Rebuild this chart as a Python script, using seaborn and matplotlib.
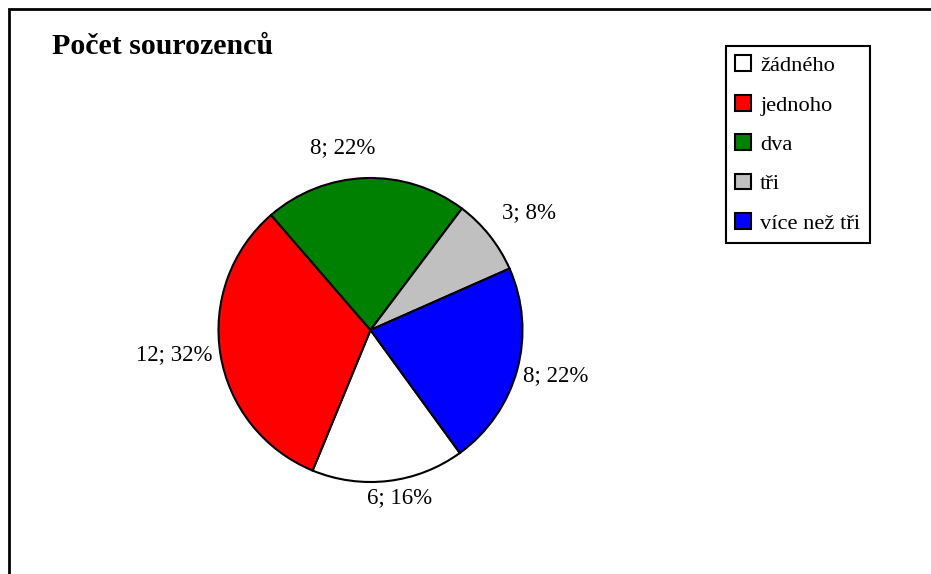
import matplotlib
matplotlib.use("Agg")
import matplotlib.pyplot as plt
import seaborn as sns
from matplotlib.patches import Rectangle

# data
categories = ['žádného', 'jednoho', 'dva', 'tři', 'více než tři']
counts = [6, 12, 8, 3, 8]
colors = ['#FFFFFF', '#FF0000', '#008000', '#C0C0C0', '#0000FF']

# label placement (pie units, radius = 1)
label_xy = [(0.19, -1.10), (-1.29, -0.16), (-0.18, 1.20), (1.04, 0.77), (1.22, -0.30)]

sns.set_theme(style="white")
plt.rcParams['font.family'] = ['Liberation Serif', 'DejaVu Serif']
plt.rcParams['text.color'] = 'black'

W, H = 931, 574
fig = plt.figure(figsize=(W / 100, H / 100), dpi=100)

# pie axes: center (370.5, 330) px, radius 152 px
R = 152
cx, cy = 370.5, H - 330
ax = fig.add_axes([(cx - 2 * R) / W, (cy - 1.5 * R) / H, 4 * R / W, 3 * R / H])

total = sum(counts)
labels = [f"{c}; {round(100 * c / total)}%" for c in counts]

wedges, texts = ax.pie(counts, colors=colors, startangle=-54, counterclock=False,
                       labels=labels, labeldistance=1.2,
                       wedgeprops=dict(edgecolor='black', linewidth=1.5),
                       textprops=dict(fontsize=16.5, color='black'))
for t, (x, y) in zip(texts, label_xy):
    t.set_position((x, y))
    t.set_ha('center')
    t.set_va('center')

ax.set_aspect('auto')
ax.set_xlim(-2, 2)
ax.set_ylim(-1.5, 1.5)
ax.axis('off')

fig.text(52 / W, 1 - 47 / H, 'Počet sourozenců', fontsize=21.5, fontweight='bold',
         ha='left', va='center', color='black')

leg = fig.legend(wedges, categories, loc='upper left',
                 bbox_to_anchor=(726 / W, 1 - 46 / H), frameon=True, fancybox=False,
                 framealpha=1, fontsize=16.2, handlelength=0.7, handleheight=0.7,
                 handletextpad=0.4, labelspacing=0.83, borderpad=0.42, borderaxespad=0)
leg.get_frame().set_edgecolor('black')
leg.get_frame().set_linewidth(1.5)
for h in leg.legend_handles:
    h.set_linewidth(1.5)
for t in leg.get_texts():
    t.set_color('black')

# outer chart border (cut off on right and bottom)
fig.add_artist(Rectangle((8.5 / W, -0.5), 2, 0.5 + 1 - 9 / H, transform=fig.transFigure,
                         fill=False, edgecolor='black', linewidth=2, clip_on=False))

fig.savefig('out.png', dpi=100)
